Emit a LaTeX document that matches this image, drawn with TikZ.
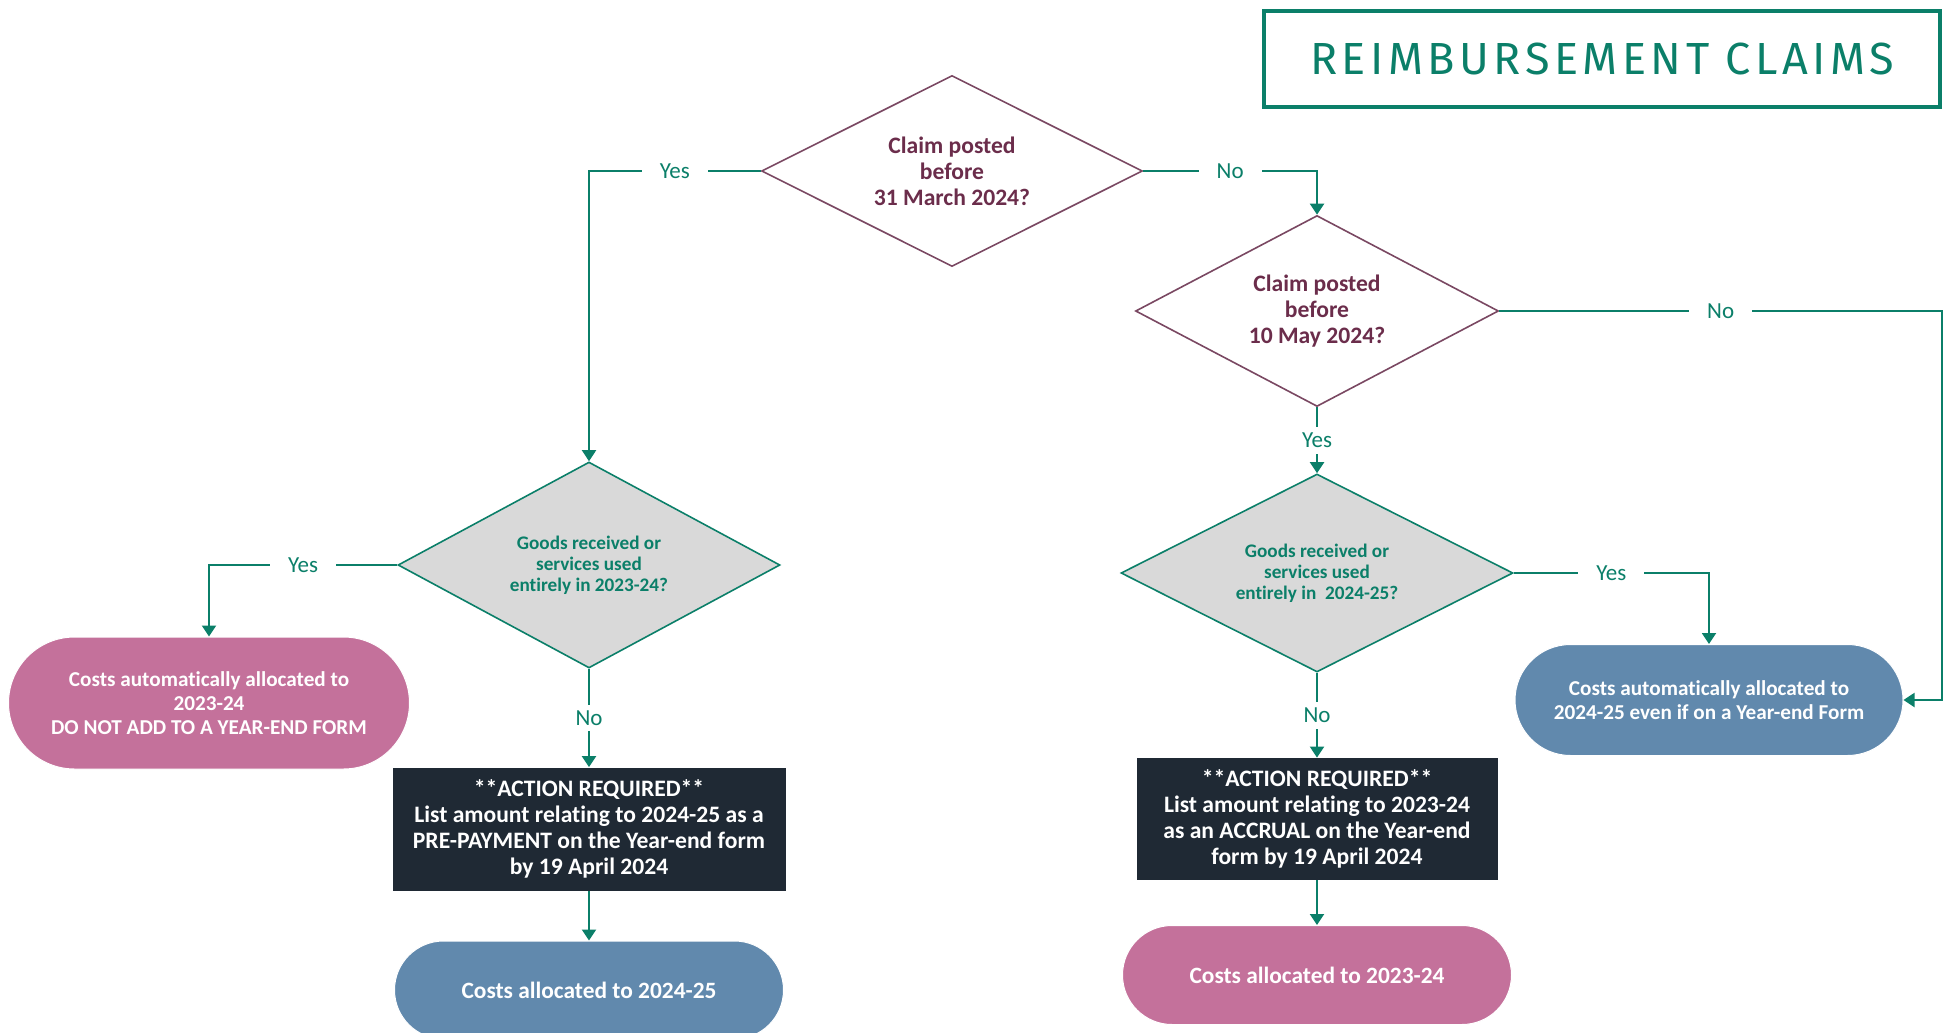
\documentclass[tikz,border=0pt]{standalone}
\usepackage{fontspec}
\setmainfont{Carlito}[Ligatures=NoCommon]
\newfontfamily\headfont[LetterSpace=10]{Fira Sans}
\usetikzlibrary{shapes.geometric,shapes.misc,arrows.meta}
\definecolor{flowteal}{HTML}{0B7F69}
\definecolor{plum}{HTML}{6B2D4B}
\definecolor{plumline}{HTML}{7A4862}
\definecolor{qgray}{HTML}{D9D9D9}
\definecolor{pinkend}{HTML}{C4719B}
\definecolor{blueend}{HTML}{6189AD}
\definecolor{actionbg}{HTML}{1F2934}

\begin{document}
\begin{tikzpicture}[x=0.5pt,y=-0.5pt,
  >={Triangle[length=5.5pt,width=7pt]},
  flow/.style={draw=flowteal,line width=1pt},
  lbl/.style={fill=white,text=flowteal,font=\fontsize{11.5}{13}\selectfont,inner xsep=9pt,inner ysep=3pt},
  datebox/.style={diamond,aspect=2,draw=plumline,line width=0.8pt,text=plum,font=\bfseries\fontsize{11.8}{13}\selectfont,align=center,inner sep=0pt},
  goodsbox/.style={diamond,aspect=2,draw=flowteal,fill=qgray,line width=0.8pt,text=flowteal,font=\bfseries\fontsize{9.6}{10.6}\selectfont,align=center,inner sep=0pt},
  endbox/.style={rounded rectangle,draw=white,line width=0.5pt,text=white,font=\bfseries\fontsize{10.6}{12.1}\selectfont,align=center,inner sep=0pt},
  actionbox/.style={rectangle,fill=actionbg,text=white,font=\bfseries\fontsize{11.8}{13}\selectfont,align=center,inner sep=0pt}]
\useasboundingbox (0,0) rectangle (1944,1033);
\clip (0,0) rectangle (1944,1033);

\node[draw=flowteal,line width=2pt,minimum width=338pt,minimum height=48pt,text=flowteal,font=\headfont\fontsize{22.5}{26}\selectfont] (title) at (1602,58.5) {REIMBURSEMENT CLAIMS};

% questions
\node[datebox,minimum width=190.5pt,minimum height=95.5pt] (d1) at (952,171) {Claim posted\\before\\31 March 2024?};
\node[datebox,minimum width=181.5pt,minimum height=95.5pt] (d2) at (1317,311) {Claim posted\\before\\10 May 2024?};
\node[goodsbox,minimum width=191pt,minimum height=103pt] (g1) at (589,565) {Goods received or\\services used\\entirely in 2023-24?};
\node[goodsbox,minimum width=196pt,minimum height=99pt] (g2) at (1317,573) {Goods received or\\services used\\entirely in~ 2024-25?};

% outcomes
\node[endbox,fill=pinkend,minimum width=200.5pt,minimum height=66pt] (p1) at (209,703) {Costs automatically allocated to\\2023-24\\DO NOT ADD TO A YEAR-END FORM};
\node[actionbox,minimum width=196.5pt,minimum height=61.5pt] (a1) at (589,829) {**ACTION REQUIRED**\\List amount relating to 2024-25 as a\\PRE-PAYMENT on the Year-end form\\by 19 April 2024};
\node[endbox,fill=blueend,minimum width=194.5pt,minimum height=49pt,font=\bfseries\fontsize{11.7}{13}\selectfont] (b1) at (589,990) {Costs allocated to 2024-25};
\node[actionbox,minimum width=180.5pt,minimum height=61pt] (a2) at (1317,819) {**ACTION REQUIRED**\\List amount relating to 2023-24\\as an ACCRUAL on the Year-end\\form by 19 April 2024};
\node[endbox,fill=pinkend,minimum width=194.5pt,minimum height=49.5pt,font=\bfseries\fontsize{11.7}{13}\selectfont] (p2) at (1317,975) {Costs allocated to 2023-24};
\node[endbox,fill=blueend,minimum width=194pt,minimum height=55.5pt] (b2) at (1709,700) {Costs automatically allocated to\\2024-25 even if on a Year-end Form};

\coordinate (edge) at (1942,311);

\draw[flow,->] (d1.west) -| node[lbl,pos=0.25]{Yes} (g1.north);
\draw[flow,->] (d1.east) -| node[lbl,pos=0.25]{No} (d2.north);
\draw[flow,->] (d2.east) -- node[lbl]{No} (edge) |- (b2.east);
\draw[flow,->] (d2.south) -- node[lbl]{Yes} (g2.north);
\draw[flow,->] (g1.west) -| node[lbl,pos=0.25]{Yes} (p1.north);
\draw[flow,->] (g1.south) -- node[lbl]{No} (a1.north);
\draw[flow,->] (a1.south) -- (b1.north);
\draw[flow,->] (g2.east) -| node[lbl,pos=0.25]{Yes} (b2.north);
\draw[flow,->] (g2.south) -- node[lbl]{No} (a2.north);
\draw[flow,->] (a2.south) -- (p2.north);
\end{tikzpicture}
\end{document}
